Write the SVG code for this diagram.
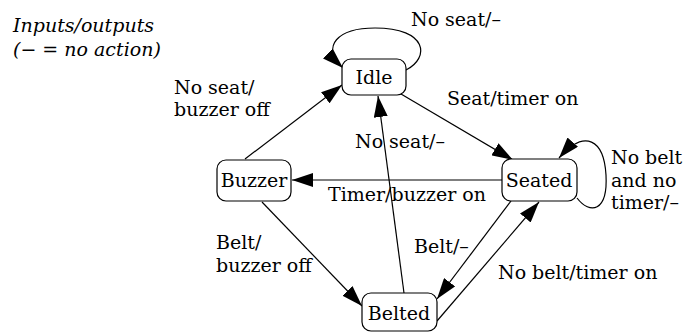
<svg xmlns="http://www.w3.org/2000/svg" width="686" height="332" viewBox="0 0 686 332">
<style>
.node rect{fill:#fff;stroke:#000;stroke-width:1.2}
text{font-family:"DejaVu Serif","Liberation Serif",serif;font-size:19px;fill:#000}
.it{font-style:italic}
.edge{fill:none;stroke:#000;stroke-width:1.2}
</style>
<defs>
<marker id="ah" markerWidth="21" markerHeight="14" refX="21" refY="7" orient="auto" markerUnits="userSpaceOnUse">
<path d="M0,0 L21,7 L0,14 Z" fill="#000"/>
</marker>
</defs>
<g id="legend">
<text class="it" x="13" y="32">Inputs/outputs</text>
<text class="it" x="13" y="56">(− = no action)</text>
</g>
<g id="connectors">
<path class="edge" marker-end="url(#ah)" d="M406,70 C430,58 428,28 375,28 C338,28 320,46 343,68"/>
<path class="edge" marker-end="url(#ah)" d="M401,94 L513,160"/>
<path class="edge" marker-end="url(#ah)" d="M577,198 C590,215 608,212 606,175 C604,140 585,128 559,158"/>
<path class="edge" marker-end="url(#ah)" d="M502,180 L292,180"/>
<path class="edge" marker-end="url(#ah)" d="M245,159 L342,85"/>
<path class="edge" marker-end="url(#ah)" d="M262,202 L362,306"/>
<path class="edge" marker-end="url(#ah)" d="M404,293 L378,96"/>
<path class="edge" marker-end="url(#ah)" d="M511,201 L437,299"/>
<path class="edge" marker-end="url(#ah)" d="M437,321 L539,202"/>
</g>
<g id="labels">
<text x="411" y="26">No seat/–</text>
<text x="447" y="105">Seat/timer on</text>
<text x="174" y="94">No seat/</text>
<text x="174" y="116">buzzer off</text>
<text x="355" y="148">No seat/–</text>
<text x="611" y="164">No belt</text>
<text x="611" y="187">and no</text>
<text x="611" y="209">timer/–</text>
<text x="328" y="201">Timer/buzzer on</text>
<text x="216" y="249">Belt/</text>
<text x="216" y="272">buzzer off</text>
<text x="414" y="253">Belt/–</text>
<text x="498" y="279">No belt/timer on</text>
</g>
<g id="Idle" class="node"><rect x="342" y="59" width="64" height="36" rx="9"/><text x="374" y="84" text-anchor="middle">Idle</text></g>
<g id="Buzzer" class="node"><rect x="217" y="160" width="74" height="41" rx="9"/><text x="254" y="187" text-anchor="middle">Buzzer</text></g>
<g id="Seated" class="node"><rect x="502" y="159" width="75" height="42" rx="9"/><text x="539" y="187" text-anchor="middle">Seated</text></g>
<g id="Belted" class="node"><rect x="362" y="293" width="75" height="38" rx="9"/><text x="399" y="320" text-anchor="middle">Belted</text></g>
</svg>
